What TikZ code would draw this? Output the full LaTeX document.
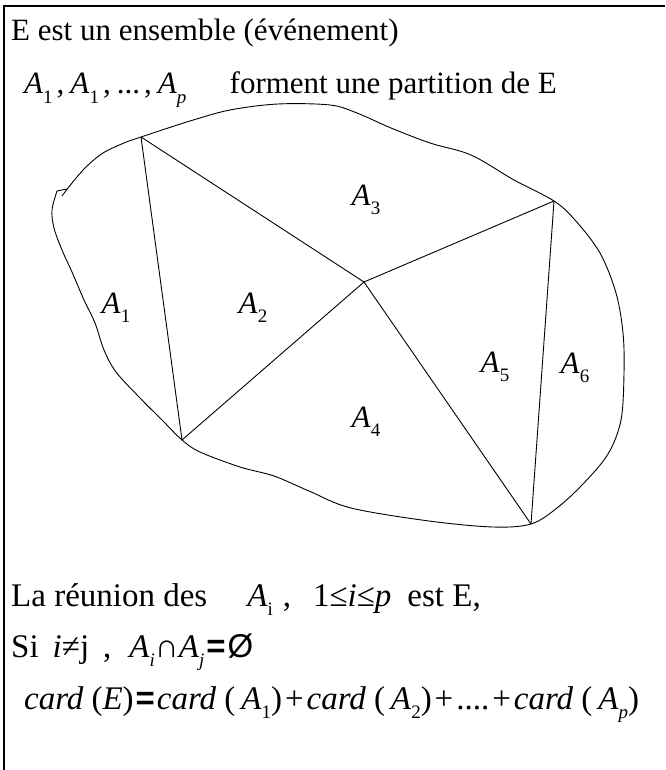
\documentclass[tikz,border=0pt]{standalone}
\usepackage{fontspec}
\setmainfont{Liberation Serif}
\newfontfamily\sansfont{Liberation Sans}
\usetikzlibrary{positioning}
\newcommand{\idx}[1]{\raisebox{-0.3em}{\fontsize{19}{19}\selectfont #1}}
\newcommand{\setA}[1]{\textit{A}\idx{#1}}
\newcommand{\card}{\textit{card}\hspace{8pt}}
\newcommand{\egal}{\hspace{2pt}{\sansfont\bfseries =}\hspace{2pt}}
\newcommand{\plus}{\hspace{3pt}+\hspace{3pt}}
\tikzset{
  txt/.style={font=\fontsize{31}{31}\selectfont, inner sep=0pt},
  bigtxt/.style={font=\fontsize{33}{33}\selectfont, inner sep=0pt},
  lbl/.style={font=\fontsize{31}{31}\selectfont, inner sep=0pt},
  bord/.style={line width=0.9pt},
  cadre/.style={line width=2.6pt}
}

\begin{document}
\begin{tikzpicture}[x=1pt, y=-1pt]
    \useasboundingbox (0,0) rectangle (665,770);
    % --- CADRE ---
    \draw[cadre] (4,770) -- (4,6) -- (665,6);

    % --- TEXTE DU HAUT ---
    \node[txt, anchor=base west] (titre) at (11,41) {E est un ensemble (événement)};
    \node[txt, anchor=base west] (liste) at (24,94) {\setA{1}\hspace{4pt},\hspace{6pt}\setA{1}\hspace{4pt},\hspace{6pt}...\hspace{4pt},\hspace{6pt}\setA{\textit{p}}};
    \node[txt, anchor=base east] (partition) at (557,94) {forment une partition de E};

    % --- ENSEMBLE E ---
    \draw[bord] (67,189) -- (57,191);
    \draw[bord] plot[smooth, tension=0.55] coordinates {
        (57,191) (52,210) (54,228) (62,250) (72,272) (84,300) (95,323)
        (104,350) (116,372) (140,398) (162,420) (182,440) (200,452) (240,467)
        (274,476) (309,491) (351,508) (429,521) (493,527) (531,524) (557,508)
        (583,484) (608,454) (621,420) (624,373) (623,333) (616,293) (600,253)
        (575,220) (554,201) (514,180) (471,155) (430,143) (391,128) (357,113)
        (330,105) (278,104) (230,110) (190,121) (141,137) (124,143) (103,153)
        (86,167) (72,183) (62,196)};

    % sommets de la partition
    \coordinate (v1) at (141,137);
    \coordinate (v2) at (182,440);
    \coordinate (c) at (364,282);
    \coordinate (v3) at (554,201);
    \coordinate (v5) at (531,524);

    \draw[bord] (v1) -- (v2);
    \draw[bord] (v1) -- (c);
    \draw[bord] (v2) -- (c);
    \draw[bord] (c) -- (v3);
    \draw[bord] (c) -- (v5);
    \draw[bord] (v3) -- (v5);

    % --- PARTIES ---
    \node[lbl] (a1) at (116,308) {\setA{1}};
    \node[lbl] (a2) at (253,308) {\setA{2}};
    \node[lbl] (a3) at (366,200) {\setA{3}};
    \node[lbl] (a4) at (366,422) {\setA{4}};
    \node[lbl] (a5) at (495,367) {\setA{5}};
    \node[lbl] (a6) at (575,368) {\setA{6}};

    % --- TEXTE DU BAS ---
    \node[bigtxt, anchor=base west] (reunion) at (11,606) {La réunion des\hspace{40pt}\setA{\rmfamily i}\hspace{10pt},\hspace{22pt}1≤\textit{i}≤\textit{p}\hspace{16pt}est E,};
    \node[bigtxt, anchor=base west] (disjoint) at (11,657) {Si\hspace{14pt}\textit{i}≠j\hspace{14pt},\hspace{18pt}\setA{\textit{i}}∩\setA{\textit{j}}\egal{\sansfont Ø}};
    \node[bigtxt, anchor=base west] (cardinal) at (24,709) {\card(\textit{E})\egal\card(\hspace{6pt}\setA{1})\plus\card(\hspace{6pt}\setA{2})\plus....\plus\card(\hspace{6pt}\setA{\textit{p}})};
\end{tikzpicture}
\end{document}
